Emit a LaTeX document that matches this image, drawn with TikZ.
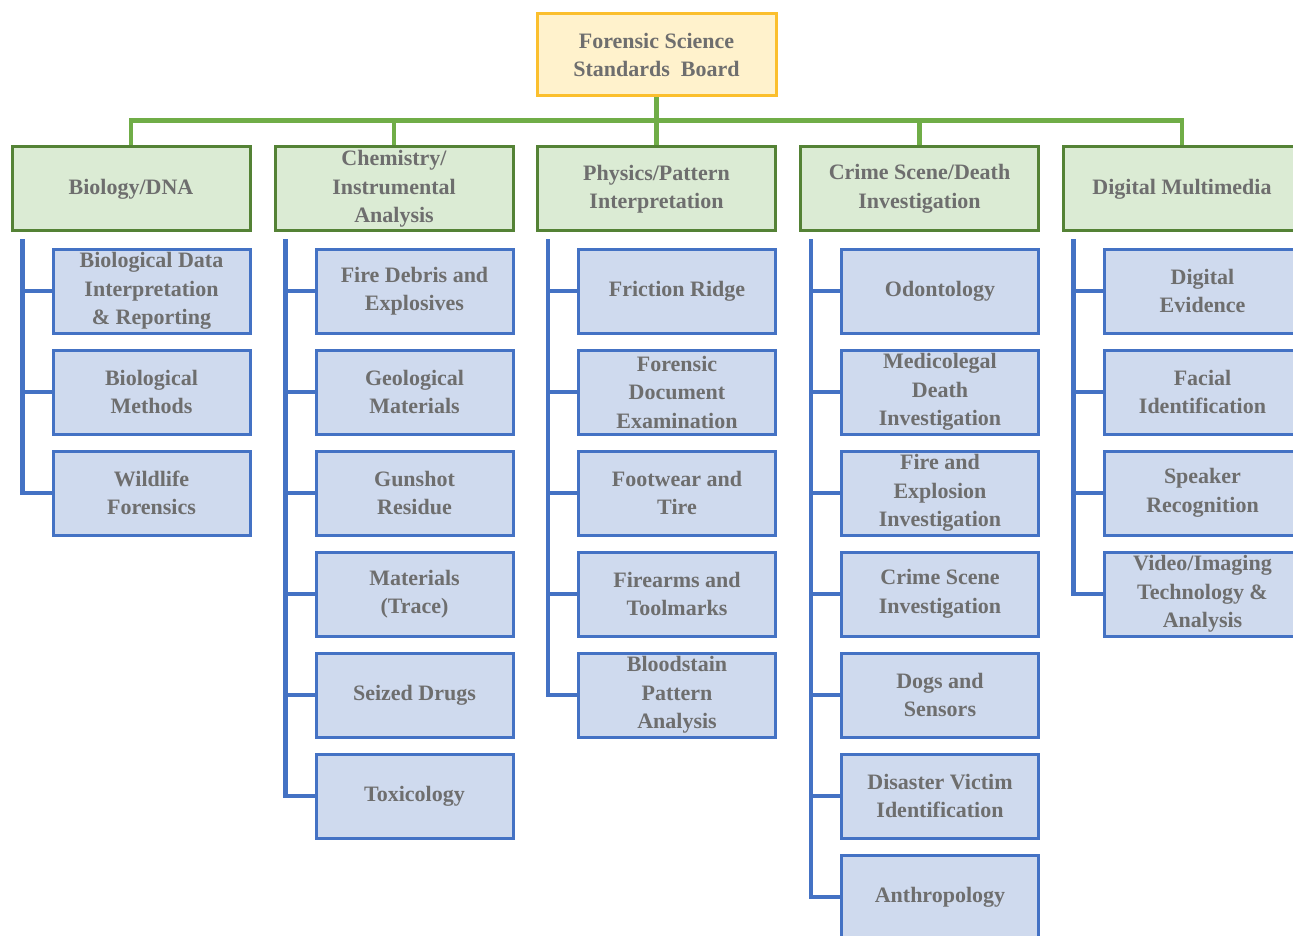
\documentclass[tikz,border=0pt]{standalone}
\usepackage{fontspec}
\setmainfont{Liberation Serif}
\usetikzlibrary{calc}
\definecolor{ctxt}{HTML}{6E6E6E}
\definecolor{ctopfill}{HTML}{FFF2CC}
\definecolor{ctopdraw}{HTML}{FBBF2D}
\definecolor{ccatfill}{HTML}{DBEBD4}
\definecolor{ccatdraw}{HTML}{548235}
\definecolor{csubfill}{HTML}{CFDAEE}
\definecolor{csubdraw}{HTML}{4472C4}
\definecolor{cgreen}{HTML}{70AD47}
\begin{document}
\begin{tikzpicture}[x=1pt,y=-1pt,
  box/.style={draw, line width=3pt, inner sep=0pt, align=center, text=ctxt,
    font=\bfseries\fontsize{22}{28.5}\selectfont},
  topbox/.style={box, fill=ctopfill, draw=ctopdraw, minimum width=239pt, minimum height=82pt},
  catbox/.style={box, fill=ccatfill, draw=ccatdraw, minimum width=238pt, minimum height=84pt},
  subbox/.style={box, fill=csubfill, draw=csubdraw, minimum width=197pt, minimum height=84pt},
  gl/.style={draw=cgreen, line width=4.2pt},
  bl/.style={draw=csubdraw, line width=4.2pt}]
\useasboundingbox (0,0) rectangle (1293,936);

% top
\node[topbox] (top) at (656.5,55) {Forensic Science\\Standards\ \ Board};

% categories
\node[catbox] (cat1) at (131,189) {Biology/DNA};
\node[catbox] (cat2) at (394,189) {Chemistry/\\Instrumental\\Analysis};
\node[catbox] (cat3) at (656.5,189) {Physics/Pattern\\Interpretation};
\node[catbox] (cat4) at (919.5,189) {Crime Scene/Death\\Investigation};
\node[catbox] (cat5) at (1182,189) {Digital Multimedia};

% green connectors
\draw[gl] (top.south) -- (cat3.north);
\foreach \k in {1,2,4,5}
  \draw[gl] (top.south) -- ++(0,23) -| (cat\k.north);

% column 1
\node[subbox] (s11) at (151.5,291) {Biological Data\\Interpretation\\\& Reporting};
\node[subbox] (s12) at (151.5,392) {Biological\\Methods};
\node[subbox] (s13) at (151.5,493) {Wildlife\\Forensics};

% column 2
\node[subbox] (s21) at (414.5,291) {Fire Debris and\\Explosives};
\node[subbox] (s22) at (414.5,392) {Geological\\Materials};
\node[subbox] (s23) at (414.5,493) {Gunshot\\Residue};
\node[subbox] (s24) at (414.5,594) {Materials\\(Trace)};
\node[subbox] (s25) at (414.5,695) {Seized Drugs};
\node[subbox] (s26) at (414.5,796) {Toxicology};

% column 3
\node[subbox] (s31) at (677,291) {Friction Ridge};
\node[subbox] (s32) at (677,392) {Forensic\\Document\\Examination};
\node[subbox] (s33) at (677,493) {Footwear and\\Tire};
\node[subbox] (s34) at (677,594) {Firearms and\\Toolmarks};
\node[subbox] (s35) at (677,695) {Bloodstain\\Pattern\\Analysis};

% column 4
\node[subbox] (s41) at (940,291) {Odontology};
\node[subbox] (s42) at (940,392) {Medicolegal\\Death\\Investigation};
\node[subbox] (s43) at (940,493) {Fire and\\Explosion\\Investigation};
\node[subbox] (s44) at (940,594) {Crime Scene\\Investigation};
\node[subbox] (s45) at (940,695) {Dogs and\\Sensors};
\node[subbox] (s46) at (940,796) {Disaster Victim\\Identification};
\node[subbox] (s47) at (940,897) {Anthropology};

% column 5
\node[subbox] (s51) at (1202.5,291) {Digital\\Evidence};
\node[subbox] (s52) at (1202.5,392) {Facial\\Identification};
\node[subbox] (s53) at (1202.5,493) {Speaker\\Recognition};
\node[subbox] (s54) at (1202.5,594) {Video/Imaging\\Technology \&\\Analysis};

% blue brackets
\foreach \c in {1,...,5}
  \coordinate (br\c) at ($(cat\c.south west)+(12,7)$);
\foreach \k in {1,2,3} \draw[bl] (br1) |- (s1\k.west);
\foreach \k in {1,...,6} \draw[bl] (br2) |- (s2\k.west);
\foreach \k in {1,...,5} \draw[bl] (br3) |- (s3\k.west);
\foreach \k in {1,...,7} \draw[bl] (br4) |- (s4\k.west);
\foreach \k in {1,...,4} \draw[bl] (br5) |- (s5\k.west);
\end{tikzpicture}
\end{document}
